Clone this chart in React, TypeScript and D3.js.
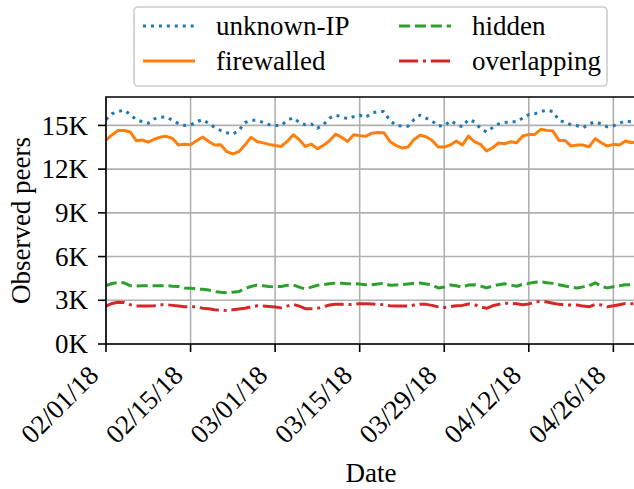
import React from "react";
import * as d3 from "d3";

// daily observations (thousands of peers), starting 2018-02-01
const startDate = new Date(2018, 1, 1);

const unknownIP = [
  15.4, 15.8, 15.95, 16.05, 15.75, 15.4, 15.25, 15.15, 15.45, 15.55, 15.58, 15.35, 15.12, 15.0, 15.02,
  15.25, 15.4, 15.15, 14.85, 14.65, 14.5, 14.4, 14.65, 15.2, 15.35, 15.35, 15.2, 15.05, 15.0,
  15.0, 15.35, 15.52, 15.2, 15.05, 15.1, 14.8, 15.05, 15.5, 15.7, 15.6, 15.45, 15.6, 15.7, 15.55,
  15.85, 15.95, 15.95, 15.35, 15.0, 14.95, 14.95, 15.4, 15.7, 15.5, 15.3, 14.97, 14.96, 15.32,
  15.1, 14.9, 15.4, 15.25, 14.8, 14.55, 14.85, 15.1, 15.2, 15.25, 15.25, 15.5, 15.75, 15.8, 15.95,
  16.05, 15.95, 15.35, 15.2, 15.05, 14.98, 14.85, 15.1, 15.25, 15.1, 14.9, 14.97, 15.15, 15.3, 15.25, 15.2,
];

const firewalled = [
  14.0, 14.35, 14.65, 14.65, 14.55, 13.95, 14.0, 13.85, 14.05, 14.2, 14.25, 14.1, 13.65, 13.7, 13.68,
  13.95, 14.2, 13.9, 13.65, 13.68, 13.2, 13.05, 13.2, 13.65, 14.18, 13.9, 13.8, 13.7, 13.62,
  13.56, 13.9, 14.36, 14.02, 13.56, 13.72, 13.4, 13.63, 13.95, 14.4, 14.18, 13.9, 14.36, 14.3, 14.25,
  14.47, 14.52, 14.5, 13.9, 13.63, 13.45, 13.52, 14.04, 14.32, 14.22, 13.97, 13.52, 13.52, 13.65,
  13.93, 13.65, 14.27, 13.88, 13.7, 13.24, 13.47, 13.79, 13.74, 13.88, 13.81, 14.27, 14.38, 14.38, 14.73,
  14.66, 14.61, 13.97, 13.97, 13.58, 13.65, 13.65, 13.54, 14.09, 13.81, 13.58, 13.7, 13.65, 13.93, 13.81, 13.88,
];

const hidden = [
  4.0, 4.15, 4.22, 4.2, 4.0, 3.98, 4.0, 4.0, 4.0, 4.0, 4.0, 3.97, 3.95, 3.85, 3.82,
  3.78, 3.75, 3.7, 3.6, 3.55, 3.52, 3.55, 3.6, 3.8, 3.95, 4.05, 4.0, 3.95, 3.93,
  3.95, 4.03, 4.05, 3.9, 3.78, 3.9, 4.03, 4.08, 4.14, 4.18, 4.17, 4.14, 4.14, 4.12, 4.07,
  4.07, 4.12, 4.17, 4.03, 4.05, 4.07, 4.12, 4.17, 4.19, 4.12, 4.05, 3.85, 3.91, 4.05,
  4.0, 3.9, 4.05, 4.07, 3.98, 3.85, 3.98, 4.07, 4.14, 4.05, 3.96, 4.1, 4.16, 4.24, 4.28,
  4.2, 4.16, 4.07, 3.98, 3.9, 3.84, 3.92, 4.0, 4.2, 3.95, 3.85, 3.93, 4.0, 4.07, 4.07, 4.05,
];

const overlapping = [
  2.6, 2.78, 2.87, 2.85, 2.7, 2.6, 2.6, 2.6, 2.63, 2.7, 2.7, 2.65, 2.6, 2.55, 2.55,
  2.55, 2.45, 2.42, 2.35, 2.33, 2.3, 2.35, 2.4, 2.45, 2.55, 2.62, 2.6, 2.58, 2.54,
  2.48, 2.6, 2.72, 2.6, 2.42, 2.42, 2.45, 2.55, 2.68, 2.73, 2.72, 2.7, 2.72, 2.77, 2.77,
  2.75, 2.72, 2.7, 2.62, 2.6, 2.6, 2.6, 2.67, 2.73, 2.72, 2.65, 2.55, 2.5, 2.56,
  2.62, 2.65, 2.75, 2.7, 2.55, 2.45, 2.62, 2.72, 2.8, 2.78, 2.76, 2.7, 2.75, 2.88, 2.92,
  2.88, 2.8, 2.72, 2.68, 2.68, 2.68, 2.6, 2.55, 2.72, 2.68, 2.55, 2.62, 2.7, 2.78, 2.76, 2.76,
];

const xTicks = ["2018-02-01", "2018-02-15", "2018-03-01", "2018-03-15", "2018-03-29", "2018-04-12", "2018-04-26"];
const yTicks = [0, 3, 6, 9, 12, 15];

const series = [
  { name: "unknown-IP", values: unknownIP, color: "#1f77b4", dash: "3,4.95" },
  { name: "firewalled", values: firewalled, color: "#ff7f0e", dash: undefined },
  { name: "hidden", values: hidden, color: "#2ca02c", dash: "11.1,4.8" },
  { name: "overlapping", values: overlapping, color: "#d62728", dash: "19.2,4.8,3,4.8" },
];

const FONT = "Liberation Serif";
const FS = 27;

const W = 634, H = 489;
const left = 106, top = 97, bottom = 344, right = 634;

const App = () => {
  const parse = d3.timeParse("%Y-%m-%d");
  const fmt = d3.timeFormat("%m/%d/%y");
  const x = d3.scaleTime()
    .domain([startDate, d3.timeDay.offset(startDate, 88)])
    .range([left, left + 88 * 6.04]);
  const y = d3.scaleLinear().domain([0, 16.95]).range([bottom, top]);

  const line = d3.line<number>()
    .x((_, i) => x(d3.timeDay.offset(startDate, i)))
    .y((d) => y(d));

  const cols = [143, 399];
  const rows = [26, 61];
  const order = [0, 2, 1, 3];

  return (
    <svg
      width={W}
      height={H}
      style={{ position: "absolute", left: 0, top: 0, display: "block", background: "#fff" }}
    >
      <defs>
        <clipPath id="plot">
          <rect x={left} y={top} width={right - left} height={bottom - top} />
        </clipPath>
      </defs>

      {/* grid */}
      <g stroke="#b0b0b0" strokeWidth={1.6}>
        {xTicks.map((t) => {
          const px = x(parse(t)!);
          return <line key={t} x1={px} x2={px} y1={top} y2={bottom} />;
        })}
        {yTicks.map((t) => (
          <line key={t} x1={left} x2={right} y1={y(t)} y2={y(t)} />
        ))}
      </g>

      {/* series */}
      <g clipPath="url(#plot)" fill="none" strokeWidth={3} strokeLinejoin="round">
        {series.map((s) => (
          <path key={s.name} d={line(s.values)!} stroke={s.color} strokeDasharray={s.dash} />
        ))}
      </g>

      {/* spines and ticks */}
      <g stroke="#000" strokeWidth={1.6} fill="none">
        <path d={`M${right + 2},${top}H${left}V${bottom}H${right + 2}`} />
        {xTicks.map((t) => {
          const px = x(parse(t)!);
          return <line key={t} x1={px} x2={px} y1={bottom} y2={bottom + 8} />;
        })}
        {yTicks.map((t) => (
          <line key={t} x1={left - 8} x2={left} y1={y(t)} y2={y(t)} />
        ))}
      </g>

      {xTicks.map((t) => {
        const px = x(parse(t)!);
        return (
          <text
            key={t}
            transform={`translate(${px - 6},${bottom + 33}) rotate(-45)`}
            textAnchor="end"
            fontSize={FS}
            fontFamily={FONT}
          >
            {fmt(parse(t)!)}
          </text>
        );
      })}
      {yTicks.map((t) => (
        <text key={t} x={left - 18} y={y(t)} dy="0.34em" textAnchor="end" fontSize={FS} fontFamily={FONT}>
          {`${t}K`}
        </text>
      ))}

      <text x={371} y={482} textAnchor="middle" fontSize={FS} fontFamily={FONT}>
        Date
      </text>
      <text
        transform={`translate(30,${(top + bottom) / 2}) rotate(-90)`}
        textAnchor="middle"
        fontSize={FS}
        fontFamily={FONT}
      >
        Observed peers
      </text>

      {/* legend */}
      <rect x={134} y={7} width={473} height={79} rx={4} fill="#fff" fillOpacity={0.8} stroke="#cccccc" strokeWidth={1.6} />
      {order.map((si, k) => {
        const s = series[si];
        const cx = cols[k % 2];
        const cy = rows[Math.floor(k / 2)];
        return (
          <g key={s.name}>
            <line x1={cx} x2={cx + 52} y1={cy} y2={cy} stroke={s.color} strokeWidth={3} strokeDasharray={s.dash} />
            <text x={cx + 73} y={cy + 9} fontSize={FS} fontFamily={FONT}>
              {s.name}
            </text>
          </g>
        );
      })}
    </svg>
  );
};

export default App;
